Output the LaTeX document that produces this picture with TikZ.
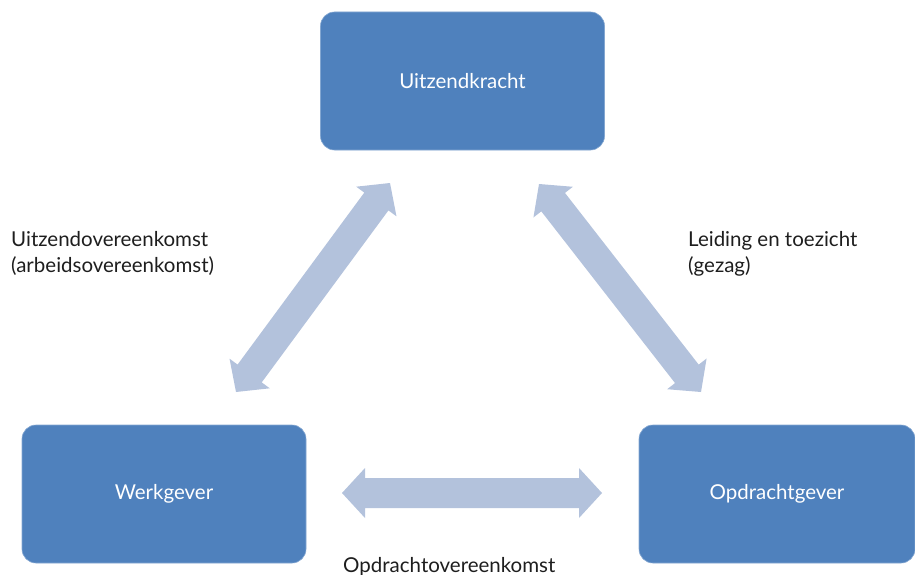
\documentclass[tikz,border=0pt]{standalone}
\usepackage{fontspec}
\setmainfont{Lato}
\usetikzlibrary{calc}
\definecolor{boxblue}{HTML}{4F81BD}
\definecolor{arrowblue}{HTML}{B3C2DC}
\definecolor{txt}{HTML}{1E1E1E}
\tikzset{
  boxnode/.style={rectangle, rounded corners=14pt, fill=boxblue, draw=boxblue!70!white, line width=0.6pt,
    minimum height=138pt, inner sep=0pt, text=white, font=\fontsize{20.5}{24}\selectfont},
  lbl/.style={inner sep=0pt, text=txt, align=left, font=\fontsize{20.5}{26}\selectfont},
  arrowfill/.style={fill=arrowblue, draw=none}
}
% double block arrow between two named coordinates
\newcommand\dblblockarrow[2]{%
  \coordinate (#1h) at ($(#1)!23pt!(#2)$);
  \coordinate (#2h) at ($(#2)!23pt!(#1)$);
  \fill[arrowblue] (#1) -- ($(#1h)!25pt!90:(#2)$) -- ($(#1h)!15pt!90:(#2)$)
    -- ($(#2h)!15pt!-90:(#1)$) -- ($(#2h)!25pt!-90:(#1)$) -- (#2)
    -- ($(#2h)!25pt!90:(#1)$) -- ($(#2h)!15pt!90:(#1)$)
    -- ($(#1h)!15pt!-90:(#2)$) -- ($(#1h)!25pt!-90:(#2)$) -- cycle;
}
\begin{document}
\begin{tikzpicture}[x=1pt,y=-1pt]
\useasboundingbox (0,0) rectangle (915,575);
\node[boxnode, minimum width=284pt] (uk) at (462.5,81) {Uitzendkracht};
\node[boxnode, minimum width=284pt] (wg) at (164,494) {Werkgever};
\node[boxnode, minimum width=276pt] (og) at (777,494) {Opdrachtgever};

\coordinate (l1) at (390,183);
\coordinate (l2) at (236,392);
\coordinate (r1) at (539,184);
\coordinate (r2) at (701,392);
\coordinate (h1) at (342,493);
\coordinate (h2) at (602,493);
\dblblockarrow{l1}{l2}
\dblblockarrow{r1}{r2}
\dblblockarrow{h1}{h2}

\node[lbl, anchor=north west] (lt) at (11,231.5) {Uitzendovereenkomst\\(arbeidsovereenkomst)};
\node[lbl, anchor=north west] (rt) at (688,231.5) {Leiding en toezicht\\(gezag)};
\node[lbl, anchor=base west] (bt) at (343,572) {Opdrachtovereenkomst};
\end{tikzpicture}
\end{document}
